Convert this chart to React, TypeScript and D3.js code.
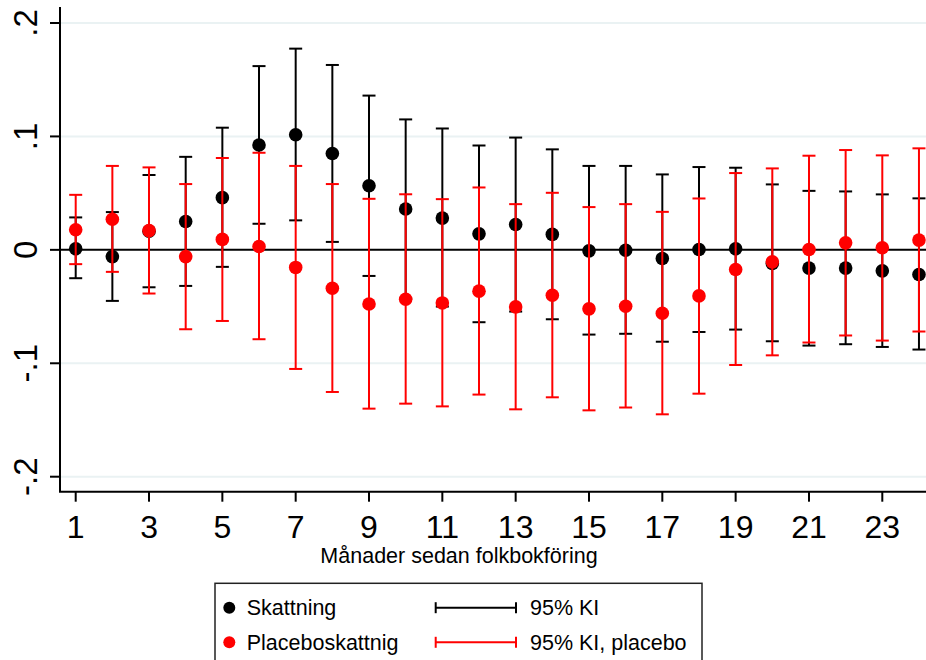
import React from "react";
import * as d3 from "d3";

const months = [1,2,3,4,5,6,7,8,9,10,11,12,13,14,15,16,17,18,19,20,21,22,23,24];

const estimate = [0.001,-0.006,0.0165,0.025,0.046,0.0924,0.1015,0.085,0.0565,0.036,0.028,0.0141,0.0224,0.0136,-0.0009,-0.0003,-0.0076,0.0003,0.001,-0.012,-0.0161,-0.0161,-0.0185,-0.0217];
const estimateLo = [-0.025,-0.045,-0.033,-0.0318,-0.015,0.023,0.026,0.007,-0.023,-0.043,-0.050,-0.0638,-0.0544,-0.0612,-0.0747,-0.074,-0.081,-0.0724,-0.0703,-0.0806,-0.0844,-0.0832,-0.0856,-0.0879];
const estimateHi = [0.0286,0.0333,0.066,0.082,0.1077,0.162,0.1774,0.163,0.136,0.115,0.107,0.092,0.099,0.0886,0.074,0.074,0.0665,0.073,0.0724,0.0577,0.052,0.0515,0.0489,0.0454];

const placebo = [0.0177,0.027,0.017,-0.006,0.0092,0.003,-0.0155,-0.0338,-0.0477,-0.0435,-0.0468,-0.0364,-0.0503,-0.040,-0.052,-0.0497,-0.0559,-0.0406,-0.0173,-0.0106,0.0003,0.0062,0.0018,0.0086];
const placeboLo = [-0.0126,-0.0194,-0.0385,-0.070,-0.0627,-0.0788,-0.105,-0.1253,-0.140,-0.1356,-0.138,-0.1276,-0.1406,-0.130,-0.1415,-0.139,-0.145,-0.1268,-0.1015,-0.093,-0.0817,-0.0755,-0.080,-0.072];
const placeboHi = [0.0485,0.074,0.0727,0.058,0.081,0.0856,0.074,0.058,0.045,0.049,0.0447,0.055,0.0403,0.0503,0.0377,0.0403,0.0335,0.0453,0.0677,0.0718,0.083,0.088,0.0833,0.0895];

const xTicks = [1,3,5,7,9,11,13,15,17,19,21,23];
const yTicks = [-0.2,-0.1,0,0.1,0.2];
const yTickLabels = ["-.2","-.1","0",".1",".2"];

const xTitle = "Månader sedan folkbokföring";
const legendLabels = ["Skattning","Placeboskattnig"];
const legendCiLabels = ["95% KI","95% KI, placebo"];

const W = 926, H = 660;
const FONT = "'Liberation Sans', Arial, sans-serif";

export default function App() {
  const left = 60, right = 926, top = 7, bottom = 491.7;
  const x = d3.scaleLinear().domain([1, 23]).range([75.7, 882.3]);
  const y = d3.scaleLinear().domain([-0.2, 0.2]).range([476.7, 23]);
  const cap = 6.5;
  const black = "#000000";
  const red = "#ff0000";

  const ciSeries = (lo: number[], hi: number[], color: string, key: string) =>
    months.map((m, i) => {
      const cx = x(m);
      return (
        <g key={key + i} stroke={color} strokeWidth={2}>
          <line x1={cx} x2={cx} y1={y(lo[i])} y2={y(hi[i])} />
          <line x1={cx - cap} x2={cx + cap} y1={y(lo[i])} y2={y(lo[i])} />
          <line x1={cx - cap} x2={cx + cap} y1={y(hi[i])} y2={y(hi[i])} />
        </g>
      );
    });

  const pts = (vals: number[], color: string, key: string) =>
    months.map((m, i) => (
      <circle key={key + i} cx={x(m)} cy={y(vals[i])} r={6.8} fill={color} />
    ));

  return (
    <svg width={W} height={H} style={{ position: "absolute", left: 0, top: 0, background: "#fff" }}>
      <rect x={0} y={0} width={W} height={H} fill="#fff" />
      {/* gridlines */}
      {yTicks.filter((t) => t !== 0).map((t) => (
        <line key={"g" + t} x1={left} x2={right} y1={y(t)} y2={y(t)} stroke="#eaf2f3" strokeWidth={2} />
      ))}
      {/* zero line */}
      <line x1={left} x2={right} y1={y(0)} y2={y(0)} stroke={black} strokeWidth={2} />
      {/* axes */}
      <line x1={left} x2={left} y1={top} y2={bottom} stroke={black} strokeWidth={2} />
      <line x1={left - 1} x2={right} y1={bottom} y2={bottom} stroke={black} strokeWidth={2} />
      {yTicks.map((t, i) => (
        <g key={"yt" + t}>
          <line x1={left - 10} x2={left} y1={y(t)} y2={y(t)} stroke={black} strokeWidth={2} />
          <text
            transform={`translate(37,${y(t)}) rotate(-90)`}
            textAnchor="middle"
            fontFamily={FONT}
            fontSize={33}
            fill={black}
          >
            {yTickLabels[i]}
          </text>
        </g>
      ))}
      {xTicks.map((t) => (
        <g key={"xt" + t}>
          <line x1={x(t)} x2={x(t)} y1={bottom} y2={bottom + 10} stroke={black} strokeWidth={2} />
          <text x={x(t)} y={538} textAnchor="middle" fontFamily={FONT} fontSize={32} fill={black}>
            {t}
          </text>
        </g>
      ))}
      <text x={459} y={563} textAnchor="middle" fontFamily={FONT} fontSize={21.5} fill={black}>
        {xTitle}
      </text>
      {/* marks */}
      {ciSeries(estimateLo, estimateHi, black, "bci")}
      {pts(estimate, black, "bp")}
      {ciSeries(placeboLo, placeboHi, red, "rci")}
      {pts(placebo, red, "rp")}
      {/* legend */}
      <rect x={215} y={583.3} width={487} height={120} fill="none" stroke="#222" strokeWidth={1.5} />
      {[black, red].map((c, i) => {
        const ly = [607.7, 642.3][i];
        return (
          <g key={"lg" + i}>
            <circle cx={229.3} cy={ly} r={6} fill={c} />
            <text x={246.7} y={ly + 7.5} fontFamily={FONT} fontSize={21.5} fill={black}>
              {legendLabels[i]}
            </text>
            <g stroke={c} strokeWidth={2}>
              <line x1={435.7} x2={516} y1={ly} y2={ly} />
              <line x1={435.7} x2={435.7} y1={ly - 5.5} y2={ly + 5.5} />
              <line x1={516} x2={516} y1={ly - 5.5} y2={ly + 5.5} />
            </g>
            <text x={530} y={ly + 7.5} fontFamily={FONT} fontSize={21.5} fill={black}>
              {legendCiLabels[i]}
            </text>
          </g>
        );
      })}
    </svg>
  );
}
